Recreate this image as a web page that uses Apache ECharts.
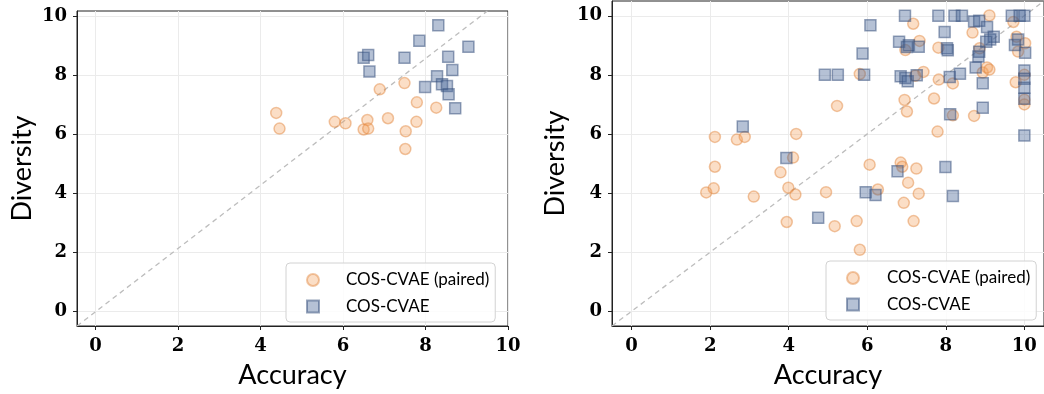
<!DOCTYPE html>
<html>
<head>
<meta charset="utf-8">
<script src="https://cdn.jsdelivr.net/npm/echarts@6/dist/echarts.min.js"></script>
<style>
  html, body { margin: 0; background: #fff; }
  #chart { width: 1044px; height: 394px; }
</style>
</head>
<body>
<div id="chart"></div>
<script>
const SERIES_NAMES = ["COS-CVAE (paired)", "COS-CVAE"];
const axisTicks = [0, 2, 4, 6, 8, 10];

// left panel
const leftPaired = [
  [4.38, 6.72], [4.46, 6.19], [5.80, 6.42], [6.06, 6.37], [6.59, 6.48],
  [6.50, 6.16], [6.61, 6.19], [6.89, 7.52], [7.09, 6.54], [7.49, 7.73],
  [7.52, 6.10], [7.51, 5.50], [7.79, 7.08], [7.78, 6.42], [8.26, 6.90],
];
const leftPlain = [
  [6.50, 8.59], [6.61, 8.68], [6.64, 8.12], [7.49, 8.59], [7.85, 9.16],
  [8.31, 9.69], [9.04, 8.96], [8.55, 8.62], [8.65, 8.17], [8.28, 7.96],
  [7.99, 7.60], [8.40, 7.69], [8.52, 7.63], [8.56, 7.35], [8.72, 6.88],
];
const leftRefLine = [[-0.45, -0.49], [9.5, 10.17]];

// right panel
const rightPaired = [
  [1.90, 4.02], [2.09, 4.16], [2.12, 4.89], [2.12, 5.90], [2.68, 5.81],
  [2.88, 5.90], [3.11, 3.88], [3.79, 4.70], [3.95, 3.02], [3.99, 4.18],
  [4.11, 5.20], [4.17, 3.95], [4.19, 6.00], [4.95, 4.03], [5.17, 2.88],
  [5.23, 6.95], [5.73, 3.05], [5.81, 2.08], [5.81, 8.03], [6.06, 4.96],
  [6.27, 4.12], [6.85, 5.03], [6.89, 4.89], [7.04, 4.35], [6.93, 3.67],
  [7.18, 3.05], [7.25, 4.83], [7.31, 3.98], [6.95, 7.15], [7.01, 6.76],
  [7.70, 7.20], [7.79, 6.08], [7.82, 7.84], [8.18, 7.71], [8.18, 6.63],
  [8.72, 6.61], [7.43, 8.10], [7.22, 7.97], [6.97, 8.84], [7.33, 9.15],
  [7.17, 9.73], [7.81, 8.92], [8.68, 9.43], [8.86, 8.90], [8.94, 8.08],
  [9.05, 8.25], [9.11, 8.18], [9.11, 10.01], [9.72, 9.79], [9.80, 9.29],
  [9.84, 8.79], [9.78, 7.75], [10.02, 9.07], [10.0, 8.0], [10.0, 7.16],
  [10.0, 7.0],
];
const rightPlain = [
  [2.83, 6.25], [3.94, 5.19], [4.75, 3.16], [4.92, 8.0], [5.25, 8.0],
  [5.88, 8.72], [5.92, 8.0], [6.08, 9.68], [5.96, 4.03], [6.21, 3.93],
  [6.77, 4.74], [6.96, 10.0], [7.81, 10.0], [8.22, 10.0], [8.41, 10.0],
  [8.72, 9.81], [8.85, 9.83], [9.05, 9.62], [7.97, 9.45], [9.68, 10.0],
  [9.88, 10.0], [10.0, 10.0], [6.81, 9.12], [7.06, 9.0], [7.01, 8.94],
  [7.31, 8.95], [8.03, 8.90], [8.05, 8.83], [9.22, 9.29], [9.13, 9.2],
  [9.03, 9.12], [8.85, 8.78], [8.83, 8.62], [9.76, 9.01], [9.84, 9.2],
  [10.02, 8.75], [8.76, 8.25], [6.85, 7.95], [6.97, 7.89], [7.03, 7.78],
  [7.26, 7.99], [8.10, 7.93], [8.36, 8.04], [8.94, 7.72], [10.0, 8.15],
  [10.0, 7.87], [10.0, 7.56], [10.0, 7.19], [8.94, 6.89], [8.11, 6.67],
  [7.99, 4.88], [8.18, 3.90], [10.0, 5.95],
];
const rightRefLine = [[-0.5, -0.5], [10.5, 10.5]];

const INK = "#222";
const TICK_FONT = { color: "#000", fontFamily: "DejaVu Serif", fontWeight: "bold", fontSize: 18 };
const NAME_FONT = { color: "#000", fontFamily: "Lato", fontSize: 27 };

const PAIRED_STYLE = { color: "rgba(243,156,85,0.42)", borderColor: "rgba(225,135,65,0.6)", borderWidth: 1.5 };
const PLAIN_STYLE = { color: "rgba(70,100,150,0.5)", borderColor: "rgba(55,80,125,0.65)", borderWidth: 1.5 };

function makeAxis(kind, gridIndex, min, max, nameGap) {
  return {
    type: "value",
    gridIndex,
    min,
    max,
    name: kind === "x" ? "Accuracy" : "Diversity",
    nameLocation: "middle",
    nameGap,
    nameTextStyle: NAME_FONT,
    axisLine: { show: true, onZero: false, lineStyle: { color: INK, width: 1 } },
    axisTick: { show: true, length: 4, customValues: axisTicks, lineStyle: { color: INK } },
    axisLabel: { customValues: axisTicks, margin: kind === "x" ? 11 : 10, ...TICK_FONT },
    splitLine: { show: true, lineStyle: { color: "#ebebeb", width: 1 } },
  };
}

function scatter(name, idx, data, symbol, size, style) {
  return {
    name,
    type: "scatter",
    xAxisIndex: idx,
    yAxisIndex: idx,
    symbol,
    symbolSize: size,
    itemStyle: style,
    emphasis: { disabled: true },
    z: 3,
    data,
  };
}

function refLine(idx, data) {
  return {
    type: "line",
    xAxisIndex: idx,
    yAxisIndex: idx,
    symbol: "none",
    silent: true,
    z: 1,
    lineStyle: { color: "#bdbdbd", width: 1.3, type: [5, 4] },
    data,
  };
}

// legend text pushed right with a rich token, like matplotlib's handletextpad
function makeLegend(left, top, textGap) {
  return {
    data: [
      { name: SERIES_NAMES[0], icon: "circle" },
      { name: SERIES_NAMES[1], icon: "rect" },
    ],
    left,
    top,
    orient: "vertical",
    itemWidth: 12,
    itemHeight: 12,
    itemGap: 9.5,
    padding: [8.5, 6, 7, 20],
    backgroundColor: "rgba(255,255,255,0.85)",
    borderColor: "#d2d2d2",
    borderWidth: 1,
    borderRadius: 4,
    selectedMode: false,
    formatter: (name) => `{t|${name}}`,
    textStyle: {
      rich: {
        t: { color: "#000", fontFamily: "Lato", fontSize: 17, lineHeight: 17, padding: [0, 0, 0, textGap] },
      },
    },
  };
}

const chart = echarts.init(document.getElementById("chart"), null, { renderer: "canvas" });
chart.setOption({
  animation: false,
  grid: [
    { left: 77, top: 11, width: 431, height: 321, show: true, borderColor: INK, borderWidth: 1 },
    { left: 612, top: 1, width: 441, height: 329, show: true, borderColor: INK, borderWidth: 1 },
  ],
  xAxis: [
    makeAxis("x", 0, -0.45, 10, 36),
    makeAxis("x", 1, -0.5, 10.5, 36),
  ],
  yAxis: [
    makeAxis("y", 0, -0.49, 10.17, 41),
    makeAxis("y", 1, -0.5, 10.5, 43),
  ],
  legend: [
    makeLegend(286, 263, 22),
    makeLegend(826, 261, 23),
  ],
  series: [
    refLine(0, leftRefLine),
    scatter(SERIES_NAMES[0], 0, leftPaired, "circle", 11, PAIRED_STYLE),
    scatter(SERIES_NAMES[1], 0, leftPlain, "rect", 11, PLAIN_STYLE),
    refLine(1, rightRefLine),
    scatter(SERIES_NAMES[0], 1, rightPaired, "circle", 11, PAIRED_STYLE),
    scatter(SERIES_NAMES[1], 1, rightPlain, "rect", 11, PLAIN_STYLE),
  ],
});
</script>
</body>
</html>
